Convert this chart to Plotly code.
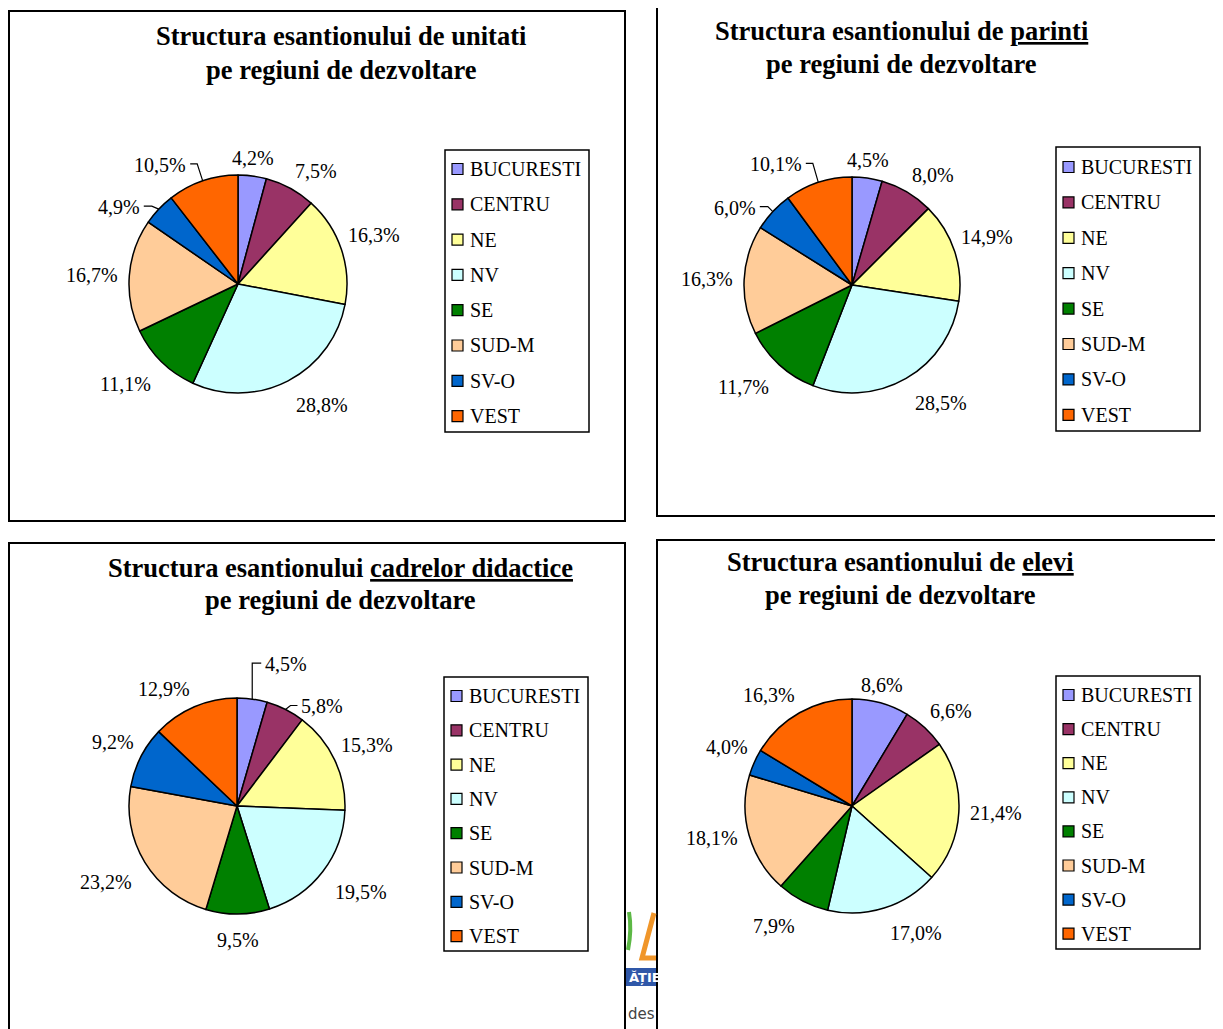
import math
import plotly.graph_objects as go

W, H = 1223, 1029
OFF = 8  # page body margin
FW, FH = W - OFF, H - OFF

# ---------------- data ----------------
regions = ["BUCURESTI", "CENTRU", "NE", "NV", "SE", "SUD-M", "SV-O", "VEST"]
unitati = [4.2, 7.5, 16.3, 28.8, 11.1, 16.7, 4.9, 10.5]
parinti = [4.5, 8.0, 14.9, 28.5, 11.7, 16.3, 6.0, 10.1]
cadre_didactice = [4.5, 5.8, 15.3, 19.5, 9.5, 23.2, 9.2, 12.9]
elevi = [8.6, 6.6, 21.4, 17.0, 7.9, 18.1, 4.0, 16.3]

titles = [
    ["Structura esantionului de unitati", "pe regiuni de dezvoltare"],
    ["Structura esantionului de <u>parinti</u>", "pe regiuni de dezvoltare"],
    ["Structura esantionului <u>cadrelor didactice</u>", "pe regiuni de dezvoltare"],
    ["Structura esantionului de <u>elevi</u>", "pe regiuni de dezvoltare"],
]
series = [unitati, parinti, cadre_didactice, elevi]

colors = ["#9999FF", "#993366", "#FFFF99", "#CCFFFF", "#008000", "#FFCC99", "#0066CC", "#FF6600"]

# ---------------- layout config (pixels) ----------------
# leaders: (slice index, elbow dx, elbow dy, horizontal end dx) relative to slice edge point
panels = [
    dict(box=(9, 11, 625, 521), cx=238, cy=284, r=109, tcx=341, ty=(36, 70),
         leg=(445, 150, 589, 432), ly0=169, ldy=35.3,
         leaders=[(6, -7, -3, -15), (7, -5.5, -17, -12.5)]),
    dict(box=(657, 6, 1240, 516), cx=852, cy=285, r=108, tcx=901, ty=(31, 64),
         leg=(1056, 147, 1200, 431), ly0=167, ldy=35.4,
         leaders=[(6, -5, -5, -13), (7, -5.5, -19, -12.5)]),
    dict(box=(9, 543, 625, 1045), cx=237, cy=806, r=108, tcx=340, ty=(568, 600),
         leg=(444, 677, 588, 951), ly0=696, ldy=34.3,
         leaders=[(0, 0, -36, 9), (1, 5, -4, 12)]),
    dict(box=(657, 540, 1240, 1045), cx=852, cy=806, r=107, tcx=900, ty=(562, 595),
         leg=(1056, 676, 1200, 949), ly0=695, ldy=34.1,
         leaders=[]),
]

FONT = "Liberation Serif, Times New Roman, serif"
LABEL_SIZE = 20
TITLE_SIZE = 26.5


def px(x):
    return (x - OFF) / FW


def py(y):
    return 1 - (y - OFF) / FH


def fmt(v):
    return f"{v:.1f}".replace(".", ",") + "%"


fig = go.Figure()
shapes = []
annotations = []

# fragment of a background logo visible between the lower panels
shapes.append(dict(type="path", xref="paper", yref="paper",
                   path=f"M {px(628)} {py(950)} Q {px(632)} {py(930)} {px(629)} {py(912)}",
                   line=dict(color="#5cb845", width=4)))
shapes.append(dict(type="path", xref="paper", yref="paper",
                   path=f"M {px(654)} {py(913)} L {px(642)} {py(958)} L {px(656)} {py(958)}",
                   line=dict(color="#f0962a", width=5)))
shapes.append(dict(type="rect", xref="paper", yref="paper",
                   x0=px(626), x1=px(656), y0=py(986), y1=py(968),
                   line=dict(width=0), fillcolor="#2f57a8"))
annotations.append(dict(x=px(627), y=py(977), xref="paper", yref="paper", showarrow=False,
                        xanchor="left", yanchor="middle", text="<b>ĂȚIE</b>",
                        font=dict(family="DejaVu Sans", size=13, color="white")))
annotations.append(dict(x=px(626), y=py(1014), xref="paper", yref="paper", showarrow=False,
                        xanchor="left", yanchor="middle", text="des",
                        font=dict(family="DejaVu Sans", size=15, color="#444444")))

for vals, ttl, p in zip(series, titles, panels):
    cx, cy, r = p["cx"], p["cy"], p["r"]
    # panel border
    x0, y0, x1, y1 = p["box"]
    shapes.append(dict(type="rect", xref="paper", yref="paper",
                       x0=px(x0), x1=px(x1), y0=py(y1), y1=py(y0),
                       line=dict(color="black", width=2), fillcolor="white",
                       layer="below"))
    # pie
    fig.add_trace(go.Pie(
        labels=regions, values=vals, sort=False, direction="clockwise", rotation=0,
        marker=dict(colors=colors, line=dict(color="black", width=1.5)),
        textinfo="none", hoverinfo="label+percent", showlegend=False,
        domain=dict(x=[px(cx - r), px(cx + r)], y=[py(cy + r), py(cy - r)]),
    ))
    # data labels from values
    leaders = {l[0]: l[1:] for l in p["leaders"]}
    total = sum(vals)
    cum = 0.0
    for i, v in enumerate(vals):
        mid = (cum + v / 2) / total * 2 * math.pi
        cum += v
        s, c = math.sin(mid), math.cos(mid)
        if i in leaders:
            ex, ey, hx = leaders[i]
            e0x, e0y = cx + r * s, cy - r * c
            elx, ely = e0x + ex, e0y + ey
            hxe = e0x + hx
            shapes.append(dict(type="path", xref="paper", yref="paper",
                               path=f"M {px(e0x)} {py(e0y)} L {px(elx)} {py(ely)} L {px(hxe)} {py(ely)}",
                               line=dict(color="black", width=1.2)))
            sign = 1 if hx > 0 else -1
            annotations.append(dict(
                x=px(hxe + sign * 2), y=py(ely + 1), xref="paper", yref="paper", showarrow=False,
                xanchor="left" if sign > 0 else "right", yanchor="middle",
                text=fmt(v), font=dict(family=FONT, size=LABEL_SIZE, color="black")))
            continue
        xa = "left" if s > 0.3 else ("right" if s < -0.3 else "center")
        ya = "bottom" if c > 0.3 else ("top" if c < -0.3 else "middle")
        gap = {"bottom": 5, "top": 13, "middle": 9}[ya]
        rr = r + gap
        ax, ay = cx + rr * s, cy - rr * c
        annotations.append(dict(
            x=px(ax), y=py(ay), xref="paper", yref="paper", showarrow=False,
            xanchor=xa, yanchor=ya,
            text=fmt(v), font=dict(family=FONT, size=LABEL_SIZE, color="black")))
    # titles
    for line, yy in zip(ttl, p["ty"]):
        annotations.append(dict(
            x=px(p["tcx"]), y=py(yy), xref="paper", yref="paper", showarrow=False,
            xanchor="center", yanchor="middle", text=f"<b>{line}</b>",
            font=dict(family=FONT, size=TITLE_SIZE, color="black")))
    # legend
    lx0, ly0b, lx1, ly1b = p["leg"]
    shapes.append(dict(type="rect", xref="paper", yref="paper",
                       x0=px(lx0), x1=px(lx1), y0=py(ly1b), y1=py(ly0b),
                       line=dict(color="black", width=1.5), fillcolor="white"))
    for i, (name, col) in enumerate(zip(regions, colors)):
        yy = p["ly0"] + i * p["ldy"]
        shapes.append(dict(type="rect", xref="paper", yref="paper",
                           x0=px(lx0 + 7), x1=px(lx0 + 18), y0=py(yy + 5.5), y1=py(yy - 5.5),
                           line=dict(color="black", width=1.2), fillcolor=col))
        annotations.append(dict(
            x=px(lx0 + 23), y=py(yy), xref="paper", yref="paper", showarrow=False,
            xanchor="left", yanchor="middle", text=name,
            font=dict(family=FONT, size=LABEL_SIZE, color="black")))

fig.update_layout(
    width=FW, height=FH, margin=dict(l=0, r=0, t=0, b=0),
    paper_bgcolor="white", plot_bgcolor="white",
    shapes=shapes, annotations=annotations,
)

fig.write_html("out.html")
